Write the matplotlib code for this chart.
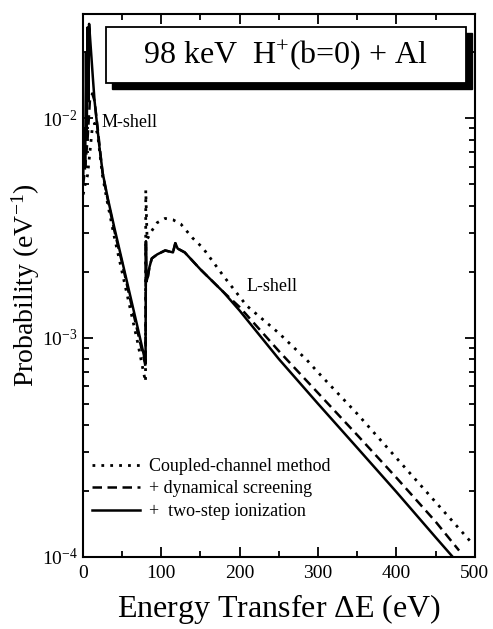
import numpy as np
import matplotlib
matplotlib.use("Agg")
import matplotlib.pyplot as plt
from matplotlib.patches import Rectangle

plt.rcParams['font.family'] = ['Liberation Serif', 'DejaVu Serif']
plt.rcParams['mathtext.fontset'] = 'custom'
plt.rcParams['mathtext.rm'] = 'Liberation Serif'
plt.rcParams['mathtext.it'] = 'Liberation Serif:italic'

# Coupled-channel method (dotted)
cc_x = [0.5, 3, 6, 9, 12, 15, 19, 25, 31, 40, 50, 60, 70, 78, 80,
        80.3, 82, 86, 95, 105, 115, 125, 140, 153, 180, 209, 250, 286,
        300, 350, 400, 450, 497]
cc_y = [4.5e-3, 5.0e-3, 5.5e-3, 7e-3, 9e-3, 9.5e-3, 8.4e-3, 5.5e-3, 4.2e-3,
        2.9e-3, 2.0e-3, 1.38e-3, 9.5e-4, 6.8e-4, 6.3e-4,
        4.7e-3, 2.8e-3, 3.0e-3, 3.35e-3, 3.5e-3, 3.45e-3, 3.3e-3, 2.85e-3,
        2.57e-3, 1.9e-3, 1.4e-3, 1.05e-3, 7.9e-4,
        6.95e-4, 4.5e-4, 2.83e-4, 1.78e-4, 1.15e-4]

# + dynamical screening (dashed)
ds_x = [0.5, 3, 6, 9, 12, 15, 19, 25, 31, 40, 50, 60, 70, 79, 80,
        80.5, 81, 83, 85, 88, 95, 105, 115, 118, 121, 130, 150, 179,
        200, 250, 300, 350, 400, 450, 480]
ds_y = [5e-3, 6e-3, 8e-3, 1.2e-2, 1.3e-2, 1.2e-2, 9e-3, 5.7e-3, 4.4e-3,
        3.1e-3, 2.2e-3, 1.52e-3, 1.06e-3, 7.7e-4, 7.4e-4,
        2.75e-3, 1.8e-3, 1.9e-3, 2.1e-3, 2.3e-3, 2.4e-3, 2.5e-3, 2.45e-3,
        2.7e-3, 2.55e-3, 2.45e-3, 2.05e-3, 1.62e-3,
        1.38e-3, 8.7e-4, 5.6e-4, 3.6e-4, 2.3e-4, 1.45e-4, 1.07e-4]

# + two-step ionization (solid)
ts_x = [0.5, 2, 3, 4, 5, 6, 7, 8, 9, 11, 13, 15, 18, 21, 25.5, 32, 40, 50,
        60, 70, 79, 80,
        80.5, 81, 83, 85, 88, 95, 105, 115, 118, 121, 130, 150, 179,
        200, 250, 300, 350, 400, 450, 472]
ts_y = [5.5e-3, 9e-3, 6e-3, 2.0e-2, 8e-3, 2.6e-2, 1.2e-2, 2.7e-2, 2.4e-2,
        1.9e-2, 1.5e-2, 1.2e-2, 9.5e-3, 7.5e-3, 5.6e-3, 4.3e-3, 3.2e-3,
        2.25e-3, 1.58e-3, 1.11e-3, 8.0e-4, 7.6e-4,
        2.75e-3, 1.8e-3, 1.9e-3, 2.1e-3, 2.3e-3, 2.4e-3, 2.5e-3, 2.45e-3,
        2.7e-3, 2.55e-3, 2.45e-3, 2.05e-3, 1.62e-3,
        1.33e-3, 8.0e-4, 5.0e-4, 3.15e-4, 1.98e-4, 1.23e-4, 1.0e-4]

fig = plt.figure(figsize=(4.93, 6.29), dpi=100)
ax = fig.add_axes([0.168, 0.1145, 0.795, 0.8635])

ax.plot(cc_x, cc_y, color='black', lw=2.0, ls=(0, (1, 2.2)),
        label='Coupled-channel method')
ax.plot(ds_x, ds_y, color='black', lw=1.8, ls=(0, (3.8, 2.2)),
        label='+ dynamical screening')
ax.plot(ts_x, ts_y, color='black', lw=1.8, ls='-',
        label='+  two-step ionization')

ax.set_yscale('log')
ax.set_xlim(0, 500)
ax.set_ylim(1e-4, 3e-2)
ax.set_xticks([0, 100, 200, 300, 400, 500])
ax.set_xticks(np.arange(50, 500, 50), minor=True)

for s in ax.spines.values():
    s.set_linewidth(1.5)
ax.tick_params(which='both', direction='in', top=True, right=True,
               width=1.3, labelsize=14)
ax.tick_params(which='major', length=7)
ax.tick_params(which='minor', length=4)
ax.tick_params(axis='x', pad=6)

ax.set_xlabel(r'Energy Transfer $\Delta$E (eV)', fontsize=23, labelpad=7)
ax.set_ylabel(r'Probability (eV$^{\mathregular{-1}}$)', fontsize=20, labelpad=0)

ax.text(24, 9.6e-3, 'M-shell', fontsize=13, va='center', ha='left')
ax.text(209, 1.71e-3, 'L-shell', fontsize=13, va='center', ha='left')

# title box with drop shadow
ax.add_patch(Rectangle((0.074, 0.862), 0.918, 0.103, transform=ax.transAxes,
                       facecolor='black', edgecolor='black', zorder=5))
ax.add_patch(Rectangle((0.059, 0.873), 0.918, 0.103, transform=ax.transAxes,
                       facecolor='white', edgecolor='black', lw=1.3, zorder=6))
ax.text(0.518, 0.9245, r'98 keV  H$^{\mathregular{+}}$(b=0) + Al',
        transform=ax.transAxes, fontsize=23, ha='center', va='center', zorder=7)

ax.legend(loc='lower left', bbox_to_anchor=(-0.01, 0.045), frameon=False,
          fontsize=13, handlelength=2.7, handletextpad=0.5,
          labelspacing=0.3, borderaxespad=0.3)

fig.savefig('out.png', dpi=100)
